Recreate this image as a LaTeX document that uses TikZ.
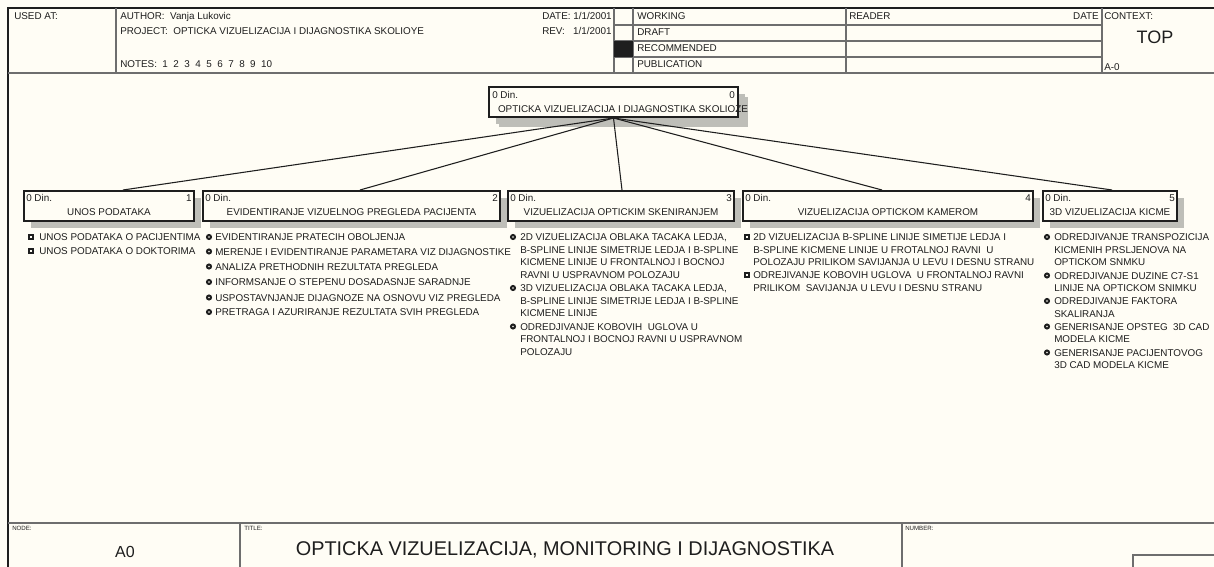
\documentclass[tikz,border=0pt]{standalone}
\usepackage{fontspec}
\setmainfont{Liberation Sans}
\usetikzlibrary{shadows}
\definecolor{bg}{RGB}{255,253,245}
\definecolor{ln}{RGB}{30,30,30}
\definecolor{hl}{RGB}{110,110,110}
\definecolor{shd}{RGB}{190,190,184}
\newlength\pxu
\setlength\pxu{0.75pt}
\newcommand\sqbul[2]{\fill[ln] (#1-3,#2-3) rectangle (#1+3,#2+3); \fill[bg] (#1-1,#2-1) rectangle (#1+1,#2+1);}
\newcommand\cibul[2]{\draw[ln, line width=1.5pt] (#1,#2) circle[radius=2];}
\begin{document}
\begin{tikzpicture}[x=0.75pt,y=-0.75pt,
  sm/.style={inner sep=0pt, anchor=base west, text=ln, font=\fontsize{7.4}{9}\selectfont},
  smr/.style={sm, anchor=base east},
  smc/.style={sm, anchor=base},
  tiny/.style={inner sep=0pt, anchor=base west, text=ln, font=\fontsize{4.6}{5}\selectfont},
  hdr/.style={draw=hl, line width=0.8pt},
  frame/.style={draw=ln, line width=1.1pt},
  box/.style={draw=ln, fill=bg, line width=1.5pt, inner sep=0pt, minimum height=30\pxu,
    drop shadow={shadow xshift=7\pxu, shadow yshift=-7\pxu, fill=shd, opacity=1}},
  rootbox/.style={box, drop shadow={shadow xshift=10\pxu, shadow yshift=-10\pxu, fill=shd, opacity=1}},
  conn/.style={draw=ln, line width=0.8pt}]
\fill[bg] (0,0) rectangle (1214,567);
\useasboundingbox (0,0) rectangle (1214,567);

% ---------- header ----------
\draw[frame] (8,567) -- (8,8) -- (1214,8);
\draw[hdr, line width=1.3pt] (8,73) -- (1214,73);
\foreach \xx in {116,614,633,846,1102} {\draw[hdr] (\xx,8) -- (\xx,73);}
\foreach \yy in {25,41,57} {\draw[hdr] (614,\yy) -- (1102,\yy);}
\fill[ln] (614,41) rectangle (633,57);

\node[sm] (usedat) at (14,19.5) {USED AT:};
\node[sm] (author) at (120,19.5) {AUTHOR:\ \ Vanja Lukovic};
\node[sm] (project) at (120,34.5) {PROJECT:\ \ OPTICKA VIZUELIZACIJA I DIJAGNOSTIKA SKOLIOYE};
\node[sm] (notes) at (120,67.5) {NOTES:\ \ 1\ \ 2\ \ 3\ \ 4\ \ 5\ \ 6\ \ 7\ \ 8\ \ 9\ \ 10};
\node[sm] (date) at (542,19.5) {DATE: 1/1/2001};
\node[sm] (rev) at (542,35) {REV:\ \ \ 1/1/2001};
\node[sm] (working) at (637,19.5) {WORKING};
\node[sm] (draft) at (637,36) {DRAFT};
\node[sm] (recom) at (637,52) {RECOMMENDED};
\node[sm] (publ) at (637,68) {PUBLICATION};
\node[sm] (reader) at (849,19.5) {READER};
\node[smr] (rdate) at (1099,19.5) {DATE};
\node[sm] (context) at (1104,19.5) {CONTEXT:};
\node[inner sep=0pt, anchor=base, text=ln, font=\fontsize{13.5}{15}\selectfont] (top) at (1155,44) {TOP};
\node[sm] (a0ctx) at (1104,70) {A-0};

% ---------- footer ----------
\draw[hdr, line width=1.3pt] (8,523) -- (1214,523);
\draw[hdr] (240,523) -- (240,567);
\draw[hdr] (902,523) -- (902,567);
\draw[hdr] (1133,567) -- (1133,555) -- (1214,555);
\node[tiny] (nodelbl) at (12,530) {NODE:};
\node[tiny] (titlelbl) at (244,530) {TITLE:};
\node[tiny] (numlbl) at (905,530) {NUMBER:};
\node[inner sep=0pt, anchor=base, text=ln, font=\fontsize{12}{14}\selectfont] (a0) at (125,557) {A0};
\node[inner sep=0pt, anchor=base, text=ln, font=\fontsize{14.9}{16}\selectfont] (title) at (565,555) {OPTICKA VIZUELIZACIJA, MONITORING I DIJAGNOSTIKA};

% ---------- root ----------
\node[rootbox, minimum width=249\pxu] (root) at (613.5,102) {};
\node[sm] (rootdin) at (492,98.5) {0 Din.};
\node[smr] (rootnum) at (735,98.5) {0};
\node[smc] (roottxt) at (623,112.5) {OPTICKA VIZUELIZACIJA I DIJAGNOSTIKA SKOLIOZE};

% ---------- children ----------
\node[box, minimum width=170\pxu] (c1) at (109,206) {};
\node[box, minimum width=297\pxu] (c2) at (351.5,206) {};
\node[box, minimum width=226\pxu] (c3) at (621,206) {};
\node[box, minimum width=290\pxu] (c4) at (888,206) {};
\node[box, minimum width=134\pxu] (c5) at (1110,206) {};

\foreach \c/\n/\tx in {c1/1/{UNOS PODATAKA}, c2/2/{EVIDENTIRANJE VIZUELNOG PREGLEDA PACIJENTA},
  c3/3/{VIZUELIZACIJA OPTICKIM SKENIRANJEM}, c4/4/{VIZUELIZACIJA OPTICKOM KAMEROM},
  c5/5/{3D VIZUELIZACIJA KICME}} {
  \node[sm] (\c din) at ([xshift=3\pxu, yshift=-11.5\pxu]\c.north west) {0 Din.};
  \node[smr] (\c num) at ([xshift=-3\pxu, yshift=-11.5\pxu]\c.north east) {\n};
  \node[smc] (\c txt) at ([yshift=-25.5\pxu]\c.north) {\tx};
}

% ---------- connectors ----------
\draw[conn] (root.south) -- ([xshift=14\pxu]c1.north);
\draw[conn] (root.south) -- ([xshift=8.5\pxu]c2.north);
\draw[conn] (root.south) -- ([xshift=1\pxu]c3.north);
\draw[conn] (root.south) -- ([xshift=-6\pxu]c4.north);
\draw[conn] (root.south) -- ([xshift=2\pxu]c5.north);

% ---------- lists ----------
% column 1
\foreach \yy in {237,251} {\sqbul{31}{\yy}}
\foreach \yy/\tx [count=\k] in {237/{UNOS PODATAKA O PACIJENTIMA}, 251/{UNOS PODATAKA O DOKTORIMA}}
  {\node[sm] (la\k) at (39,\yy+3.5) {\tx};}
% column 2
\foreach \yy in {237,251.5,266.5,282,297.5,312} {\cibul{209}{\yy}}
\foreach \yy/\tx [count=\k] in {237/{EVIDENTIRANJE PRATECIH OBOLJENJA},
  251.5/{MERENJE I EVIDENTIRANJE PARAMETARA VIZ DIJAGNOSTIKE},
  266.5/{ANALIZA PRETHODNIH REZULTATA PREGLEDA},
  282/{INFORMSANJE O STEPENU DOSADASNJE SARADNJE},
  297.5/{USPOSTAVNJANJE DIJAGNOZE NA OSNOVU VIZ PREGLEDA},
  312/{PRETRAGA I AZURIRANJE REZULTATA SVIH PREGLEDA}}
  {\node[sm] (lb\k) at (215,\yy+3.5) {\tx};}
% column 3
\foreach \yy in {237,288,326.5} {\cibul{513}{\yy}}
\foreach \yy/\tx [count=\k] in {237/{2D VIZUELIZACIJA OBLAKA TACAKA LEDJA,},
  249.5/{B-SPLINE LINIJE SIMETRIJE LEDJA I B-SPLINE},
  262/{KICMENE LINIJE U FRONTALNOJ I BOCNOJ},
  274.5/{RAVNI U USPRAVNOM POLOZAJU},
  288/{3D VIZUELIZACIJA OBLAKA TACAKA LEDJA,},
  300.5/{B-SPLINE LINIJE SIMETRIJE LEDJA I B-SPLINE},
  313/{KICMENE LINIJE},
  326.5/{ODREDJIVANJE KOBOVIH\ \ UGLOVA U},
  339/{FRONTALNOJ I BOCNOJ RAVNI U USPRAVNOM},
  351.5/{POLOZAJU}}
  {\node[sm] (lc\k) at (520,\yy+3.5) {\tx};}
% column 4
\foreach \yy in {237,275} {\sqbul{747}{\yy}}
\foreach \yy/\tx [count=\k] in {237/{2D VIZUELIZACIJA B-SPLINE LINIJE SIMETIJE LEDJA I},
  249.5/{B-SPLINE KICMENE LINIJE U FROTALNOJ RAVNI\ \ U},
  262/{POLOZAJU PRILIKOM SAVIJANJA U LEVU I DESNU STRANU},
  275/{ODREJIVANJE KOBOVIH UGLOVA\ \ U FRONTALNOJ RAVNI},
  287.5/{PRILIKOM\ \ SAVIJANJA U LEVU I DESNU STRANU}}
  {\node[sm] (ld\k) at (753,\yy+3.5) {\tx};}
% column 5
\foreach \yy in {237,275.5,301,326.5,352.5} {\cibul{1047}{\yy}}
\foreach \yy/\tx [count=\k] in {237/{ODREDJIVANJE TRANSPOZICIJA},
  249.5/{KICMENIH PRSLJENOVA NA},
  262/{OPTICKOM SNMKU},
  275.5/{ODREDJIVANJE DUZINE C7-S1},
  288/{LINIJE NA OPTICKOM SNIMKU},
  301/{ODREDJIVANJE FAKTORA},
  313.5/{SKALIRANJA},
  326.5/{GENERISANJE OPSTEG\ \ 3D CAD},
  339/{MODELA KICME},
  352.5/{GENERISANJE PACIJENTOVOG},
  365/{3D CAD MODELA KICME}}
  {\node[sm] (le\k) at (1054,\yy+3.5) {\tx};}
\end{tikzpicture}
\end{document}
